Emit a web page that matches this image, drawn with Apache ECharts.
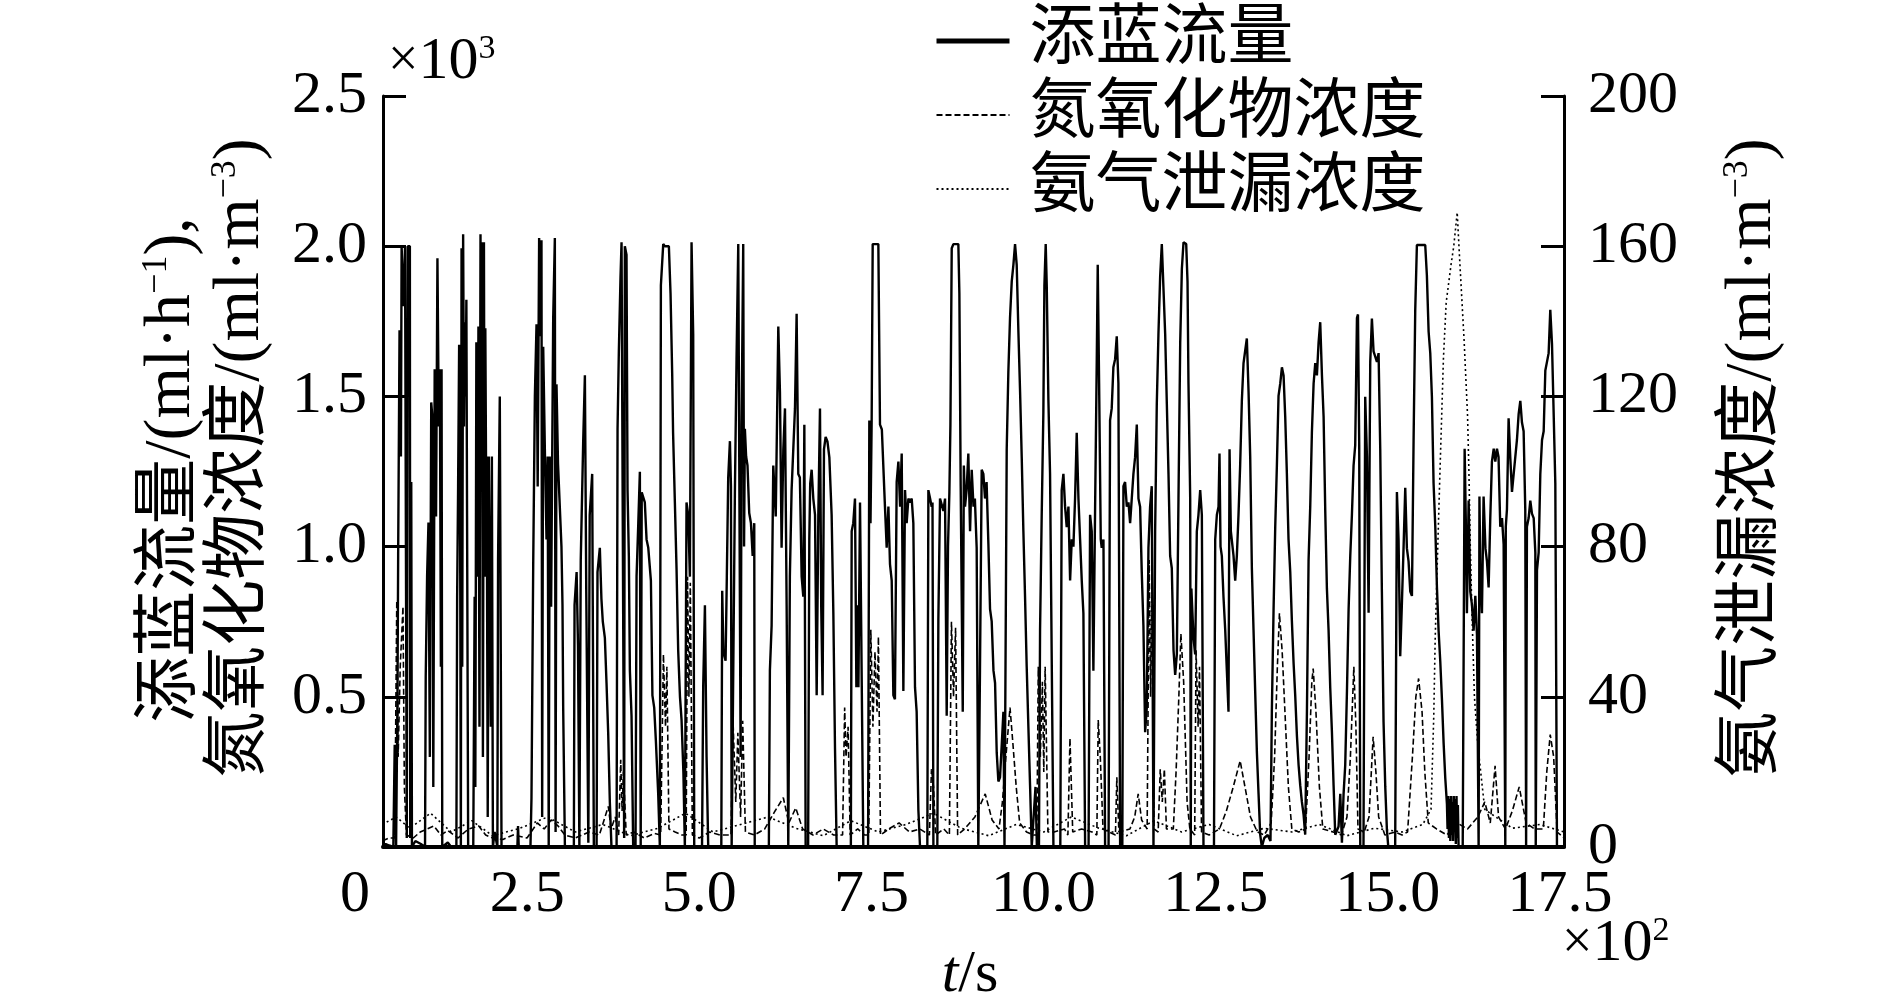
<!DOCTYPE html>
<html>
<head>
<meta charset="utf-8">
<script src="https://cdn.jsdelivr.net/npm/echarts@6/dist/echarts.min.js"></script>
<style>
  html, body { margin: 0; padding: 0; background: #fff; }
  #chart { width: 1889px; height: 1004px; }
</style>
</head>
<body>
<div id="chart"></div>
<script>
// 时间 t/s 与数值
const flowData = [
  [40,0],[45,10],[50,5],[56,0],[58,340],[60,0],[62,500],[63,970],[65,1720],[67,1300],[68,2000],[71,1800],[73,2000],[75,2000],[75.5,30],[77,2000],[80,2000],[80.5,30],[82,1215],[83,0],[88,20],[96,10],[102,0],
  [103,567],[105,900],[107,1080],[109,300],[111,1480],[113,1420],[114,200],[116,1590],[118,1100],[120,1960],[122,1400],[123.5,1590],[125,600],[126,1590],[127,0],
  [135,15],[140,0],[147.5,0],[148.6,833],[150,1200],[151.5,1672],[153,1000],[154,0],[155,1993],[156,600],[157.3,2040],[158.5,1400],[159.7,1747],[161,1500],[162,1822],[163,1100],[164.6,0],
  [172,0],[174,833],[175,200],[176.5,1680],[178,900],[179.5,1733],[181,400],[182.5,2040],[183.5,1200],[184.5,2013],[186,300],[187.5,2013],[188.5,900],[189.5,1727],[190.5,1290],[191.5,1300],[193,100],[194.5,1300],[196,1300],[197.5,400],[199,1300],[200.5,0],
  [203,50],[207,0],[208,955],[210.5,1500],[213,0],[236,0],[237,70],[238,0],[255,0],
  [256.5,164],[259,940],[261.4,1500],[263.8,1740],[265.5,1200],[267.6,2027],[269,1700],[271,2020],[272,100],[273.5,1665],[276,1310],[278.3,1024],[280,1300],[281.5,0],[283,1300],[285,800],[288,1760],[290.4,2027],[291.5,50],[292.8,1540],[295,1276],[297.7,1270],[300,1000],[301.5,805],[302.5,464],[305,0],
  [318,0],[319,805],[322,915],[324,669],[326,0],[328,955],[331.5,1345],[334,1570],[336,846],[339,14],[341,1105],[344.6,1242],[347,0],
  [351,0],[352.3,915],[355.7,996],[358,826],[360,750],[363,696],[365.4,546],[367.8,382],[370.2,150],[372.6,0],
  [380,0],[381.4,1392],[383.3,1652],[385.7,1897],[387.2,2013],[390,2013],[391,30],[392,2000],[394.4,1972],[395.9,1188],[397.8,969],[399.3,587],[401.7,437],[404.1,0],
  [407.5,0],[409,901],[411.5,1078],[413.8,1249],[415,0],[416.5,1181],[418.6,1181],[421,1147],[423.5,1024],[426,996],[429.8,887],[432,505],[434.6,464],[437,355],[440.4,177],[442.8,0],
  [444.3,1870],[447.7,2007],[450,2000],[455.9,2000],[458.3,1843],[460.7,1577],[462,1379],[464.6,1147],[467,928],[469.4,655],[472,500],[474.3,423],[477,246],[479.1,0],
  [481.5,1147],[484,1105],[486.4,900],[488.8,2013],[490,2013],[491.2,1706],[492.7,0],
  [504,0],[505.7,532],[508.2,805],[510.6,300],[513,0],
  [532,0],[533.3,853],[535,650],[538.2,620],[540,900],[542,1228],[544.5,1351],[546,1200],[547,0],[549.3,0],[551.7,1180],[554.1,1624],[556.6,2007],[559,2007],[560,300],[561.4,1406],[563.8,2007],[565,1000],[566.2,1392],[568,1300],[570,1270],[572.5,1112],[575,1078],[577.5,969],[579.8,1078],[580.5,0],
  [601,0],[602.5,587],[605,737],[607.4,1270],[608.4,1270],[611,1100],[614.7,1733],[617.1,1515],[619.5,996],[622,1324],[624.4,1460],[626.8,805],[629.2,0],[631.5,900],[634,1188],[636.5,1188],[638.9,1460],[641.3,1775],[643.7,1242],[646,1230],[648.6,900],[651,833],[652.5,1406],[654.4,0],
  [658,0],[659.7,1024],[661,1210],[663.1,1256],[665.5,1160],[668,1106],[670.4,505],[672.8,1106],[675.2,1460],[677,800],[679,505],[681,1324],[683.4,1365],[686,1350],[688.8,1297],[692.1,1106],[694.6,778],[697,328],[699.4,0],
  [720,0],[721.2,1051],[723.5,1078],[726,1160],[728,532],[729.4,805],[731,532],[733.3,1147],[735.5,1147],[738.1,0],
  [745,0],[746.8,1420],[748.5,1078],[750.2,1420],[751.7,2007],[759.9,2007],[762.3,1406],[765,1390],[767.2,1392],[769.5,1133],[772,996],[774.5,1133],[776.8,942],[779.3,887],[781.7,505],[784,492],[786.5,1215],[789,1283],[791.5,1133],[793.8,1310],[796.2,519],[798.6,1188],[801,1078],[803.5,1160],[806,1147],[808.3,1160],[810.7,1078],[813.1,532],[815.5,450],[818,123],[820.4,0],
  [831,0],[832.5,1188],[835,1160],[837.3,1133],[838.5,1147],[839.8,0],[845.5,0],[847,758],[849.4,1160],[851.8,1160],[854.3,1119],[856.7,1160],[859.1,437],[861,1000],[863,1181],[864.5,1406],[866.4,1993],[868.8,2007],[876,2007],[877.5,1843],[879.4,1201],[882.4,450],[884,1270],[885.7,1133],[888,1188],[890.5,1310],[893,1051],[895.4,1256],[898,1133],[900,1160],[902.6,996],[905,0],[907.4,587],[909.9,1256],[912.3,1242],[914.7,1160],[917,1215],[919.6,1010],[922,792],[924.4,751],[927,587],[929.3,546],[931.7,314],[934.1,218],[936.5,232],[939,341],[941.4,450],[943,0],
  [945,0],[946.2,1324],[948.6,1583],[951,1761],[953.5,1883],[955.9,1938],[958.3,2007],[960.7,1938],[963.1,1720],[965.6,1515],[968,1297],[970.4,1051],[972.8,833],[975.2,601],[977.7,396],[980.1,205],[982.5,0],
  [988,200],[990,0],[993,0],[994.6,723],[997,1106],[999.4,1447],[1000.9,1870],[1002.8,2007],[1004.3,1870],[1006.7,1488],[1009.1,1242],[1011.5,1242],[1014,0],
  [1024,0],[1026,1188],[1028.5,1242],[1030.9,1133],[1033.3,1065],[1035.8,1133],[1038.2,887],[1040.6,1024],[1043,1000],[1045.4,1160],[1047.8,1379],[1050.3,1160],[1052.7,1024],[1055.1,887],[1057.5,778],[1060,0],
  [1065,0],[1067.2,1106],[1069.6,1051],[1072,587],[1074.5,1133],[1076.9,1624],[1078.3,1938],[1080.3,1543],[1082.7,1024],[1084.1,996],[1086.6,1024],[1089,0],
  [1094,0],[1096.2,1420],[1098.6,1460],[1101,1597],[1103.5,1624],[1105.9,1700],[1108.3,1543],[1110.8,0],
  [1114,0],[1115.6,1201],[1118,1215],[1120.5,1133],[1122.9,1147],[1125.3,1078],[1127.7,1160],[1130.1,1242],[1132.5,1297],[1135,1406],[1137.4,1160],[1139.8,1133],[1142.2,915],[1144.6,737],[1147.1,382],[1149.5,464],[1151.9,996],[1154.3,1133],[1156.7,1201],[1159.2,0],
  [1161.6,1051],[1164,1474],[1166.4,1706],[1168.9,1900],[1171.3,2007],[1173.7,2007],[1176.2,1706],[1178.6,1474],[1181,1242],[1183.4,969],[1185.8,928],[1188.3,655],[1190.7,573],[1193.1,641],[1195.5,1160],[1198,1679],[1200.4,1925],[1202.8,2013],[1206.7,2007],[1208.6,1883],[1210,1543],[1212.5,1160],[1213.3,0],[1214.2,860],[1217.3,696],[1219.7,641],[1222.1,1051],[1224.5,1106],[1227,1188],[1229.4,1106],[1231.8,0],
  [1247,0],[1248.8,1024],[1251.2,1106],[1253.6,1133],[1255,1310],[1256.5,1000],[1258.4,969],[1260.8,833],[1263.3,723],[1265.7,587],[1268.1,450],[1269.6,1324],[1271.5,1051],[1273,1051],[1275.4,969],[1277.8,887],[1280.2,969],[1282.6,1106],[1285,1270],[1287.5,1488],[1289.9,1611],[1292.3,1652],[1294.7,1693],[1297.2,1515],[1299.6,1297],[1302,928],[1304.4,723],[1306.8,519],[1309.3,314],[1311.7,177],[1314.1,41],[1316.5,0],
  [1320,30],[1325,40],[1329,20],[1331,450],[1333.5,792],[1335.9,1065],[1338.3,1270],[1340.7,1502],[1343.2,1543],[1345.6,1597],[1348,1570],[1350.4,1433],[1352.8,1242],[1355.2,1024],[1357.7,915],[1360.1,751],[1362.5,614],[1364.9,505],[1367.4,369],[1369.8,273],[1372.2,205],[1374.6,150],[1377,109],[1379.4,41],[1381.9,450],[1384.3,955],[1386.7,1133],[1389.1,1379],[1391.6,1543],[1394,1611],[1396.4,1570],[1398.8,1679],[1401.2,1747],[1403.7,1570],[1406.1,1433],[1408.5,1119],[1410.9,860],[1413.3,723],[1415.7,532],[1418.2,382],[1420.6,205],[1423,41],[1425.4,41],[1427.8,68],[1430.3,177],[1432.7,14],[1435.1,177],[1437.5,273],[1440,519],[1442.4,792],[1444.8,969],[1447.2,1106],[1449.6,1270],[1452,1338],[1454.5,1761],[1456,1773],[1457.8,1338],[1459.3,0],
  [1464,0],[1466.5,1499],[1469,1300],[1471.4,780],[1473.8,1615],[1476.2,1759],[1478.6,1650],[1481,1644],[1483.5,1615],[1485.9,1644],[1488.3,1326],[1490.7,850],[1493.1,417],[1495.6,200],[1498,56],[1500,0],
  [1510,0],[1512.5,1182],[1514.9,1023],[1517.3,635],[1519.7,807],[1522.2,1000],[1524.6,1196],[1527,994],[1529.4,951],[1531.9,850],[1534.3,836],[1536.7,1355],[1539.1,1788],[1541.5,2004],[1553.6,2004],[1556,1903],[1558.5,1716],[1560.9,1644],[1563.3,1499],[1565.7,1211],[1568.2,1066],[1570.6,864],[1573,720],[1575.4,619],[1577.9,489],[1580.3,345],[1582.7,229],[1585.1,143],[1586,60],[1587,170],[1588,30],[1589,160],[1590,20],[1591,170],[1592,40],[1593,150],[1594,20],[1595,170],[1596,50],[1597,160],[1598,10],[1599,170],[1600,30],[1601,140],[1602,0],
  [1608,0],[1610.8,1326],[1612.4,1100],[1614.1,778],[1616.6,1153],[1619,850],[1621.4,807],[1623.8,720],[1626.3,836],[1628.7,707],[1631.1,0],[1632.3,1167],[1633.5,922],[1635.9,778],[1638.3,1167],[1641,994],[1643.2,951],[1645.6,864],[1648,1095],[1650.4,1283],[1653,1326],[1655.3,1283],[1657.7,1326],[1660,1298],[1662.5,1066],[1665,1095],[1667.4,1008],[1669.8,0],[1670.5,1066],[1672.2,1124],[1674.6,1427],[1677,1298],[1679.5,1182],[1681.9,1240],[1684.3,1298],[1686.7,1355],[1689.2,1442],[1691.6,1485],[1694,1413],[1696.4,1384],[1698.8,1124],[1700,0],[1701.2,1066],[1703.7,1095],[1706.1,1153],[1708.5,1110],[1711,1095],[1713.4,980],[1714,0],[1715.8,922],[1718.2,980],[1720.6,1240],[1723.1,1355],[1725.5,1384],[1727.9,1586],[1730.3,1615],[1732.7,1644],[1735.1,1788],[1737.6,1673],[1740,1442],[1742.4,1211],[1744.8,0],[1755,0]
];

const noxData = [
  [40,20],[50,30],[58,30],[61,820],[63,300],[66,600],[70,800],[72,200],[75,40],[85,30],[95,50],[105,60],[115,70],[125,40],[135,55],[150,30],[165,60],[180,70],[190,40],[200,30],[215,25],[230,40],[250,30],[265,80],[275,60],[285,90],[295,70],[305,40],[320,30],[340,50],[355,40],[368,135],[372,60],[378,100],[383,40],[386,290],[388,120],[390,250],[394,40],[405,50],[420,30],[435,45],[444,40],[448,641],[451,400],[453,600],[456,60],[465,50],[475,40],[481,40],[483,900],[485,500],[487,880],[490,40],[500,30],[515,50],[530,40],[546,40],[549,420],[553,150],[556,380],[560,100],[563,420],[567,50],[580,40],[595,60],[610,120],[622,164],[630,80],[640,130],[650,60],[665,40],[680,60],[695,40],[708,40],[711,464],[713,300],[716,400],[719,40],[730,60],[740,40],[746,40],[749,723],[752,400],[755,650],[758,450],[760,700],[763,40],[775,60],[790,80],[805,50],[820,60],[834,40],[837,259],[840,200],[843,40],[855,60],[863,40],[866,750],[869,500],[872,730],[875,40],[885,60],[900,100],[915,177],[925,90],[935,60],[940,150],[945,300],[951,464],[955,350],[960,200],[965,80],[975,50],[985,40],[990,40],[992,600],[995,300],[998,550],[1000,250],[1002,600],[1006,50],[1015,50],[1030,60],[1035,40],[1038,362],[1042,50],[1055,60],[1070,50],[1077,40],[1079,423],[1082,300],[1086,60],[1095,50],[1104,40],[1106,232],[1109,50],[1125,60],[1132,100],[1137,177],[1142,90],[1150,60],[1153,955],[1155,500],[1157,900],[1160,60],[1166,50],[1169,259],[1172,150],[1175,259],[1178,60],[1188,60],[1192,250],[1196,500],[1199,710],[1203,550],[1208,150],[1212,60],[1219,40],[1221,655],[1224,400],[1226,600],[1229,50],[1240,40],[1255,60],[1265,120],[1275,200],[1285,287],[1292,200],[1300,100],[1310,50],[1320,40],[1330,80],[1335,300],[1339,600],[1342,778],[1346,650],[1350,450],[1355,200],[1360,60],[1370,50],[1380,60],[1385,300],[1389,550],[1391,594],[1395,450],[1400,200],[1405,60],[1420,50],[1432,40],[1440,100],[1445,300],[1450,600],[1453,400],[1456,60],[1465,50],[1472,100],[1478,367],[1482,250],[1486,100],[1495,40],[1510,50],[1520,40],[1528,50],[1535,300],[1540,500],[1544,561],[1549,450],[1553,250],[1558,80],[1570,60],[1585,40],[1600,80],[1615,60],[1630,100],[1640,150],[1648,80],[1655,270],[1660,100],[1670,60],[1680,120],[1690,200],[1700,80],[1712,60],[1725,60],[1730,250],[1735,374],[1740,300],[1745,50],[1755,30]
];

const nh3Data = [
  [40,6],[60,8],[80,5],[110,9],[140,4],[170,7],[200,3],[240,5],[280,8],[320,4],[360,6],[400,3],[440,5],[480,9],[520,4],[560,6],[600,8],[640,5],[680,3],[720,7],[760,4],[800,6],[840,9],[880,5],[920,3],[960,6],[1000,4],[1040,8],[1080,5],[1120,3],[1160,7],[1200,4],[1240,6],[1280,3],[1320,5],[1360,4],[1400,6],[1440,3],[1480,5],[1520,4],[1550,6],[1562,10],[1566,35],[1568,55],[1571,75],[1575,100],[1580,130],[1584,145],[1591,155],[1595,160],[1600,169],[1604,155],[1610,135],[1615,115],[1617,100],[1619,80],[1621,65],[1625,40],[1630,27],[1640,10],[1680,5],[1720,6],[1755,4]
];

const xTickLabels = ["0", "2.5", "5.0", "7.5", "10.0", "12.5", "15.0", "17.5"];
const leftTickLabels = ["", "0.5", "1.0", "1.5", "2.0", "2.5"];
const rightTickLabels = ["0", "40", "80", "120", "160", "200"];
const seriesNames = ["添蓝流量", "氮氧化物浓度", "氨气泄漏浓度"];

const serif = '"Liberation Serif", "Noto Sans CJK SC", serif';
const cjk = '"Liberation Serif", "Noto Sans CJK SC", sans-serif';

const chart = echarts.init(document.getElementById("chart"));

const option = {
  backgroundColor: "#fff",
  animation: false,
  legend: {
    orient: "vertical",
    left: 929,
    top: 3,
    itemWidth: 73,
    itemHeight: 14,
    itemGap: 8,
    selectedMode: false,
    itemStyle: { opacity: 0 },
    data: [
      { name: seriesNames[0], lineStyle: { width: 5 }, itemStyle: { opacity: 0 } },
      { name: seriesNames[1], lineStyle: { width: 2 }, itemStyle: { opacity: 0 } },
      { name: seriesNames[2], lineStyle: { width: 2 }, itemStyle: { opacity: 0 } }
    ],
    textStyle: {
      fontSize: 66,
      fontFamily: cjk,
      color: "#000",
      padding: [0, 0, 0, 15]
    }
  },
  grid: [
    { left: 383, right: 325, top: 96, bottom: 157 },
    // 刻度标签所用网格
    { left: 355, right: 329, top: 96, bottom: 157 }
  ],
  xAxis: [
    {
      type: "value",
      gridIndex: 0,
      min: 41,
      max: 1755,
      axisLine: { lineStyle: { color: "#000", width: 4 } },
      axisTick: { show: false },
      axisLabel: { show: false },
      splitLine: { show: false }
    },
    {
      type: "value",
      gridIndex: 1,
      min: 0,
      max: 1750,
      interval: 250,
      axisLine: { show: false },
      axisTick: { show: false },
      splitLine: { show: false },
      axisLabel: {
        margin: 18,
        fontSize: 60,
        fontFamily: serif,
        color: "#000",
        formatter: (v, i) => xTickLabels[i]
      }
    }
  ],
  yAxis: [
    {
      type: "value",
      gridIndex: 0,
      position: "left",
      min: 0,
      max: 2500,
      interval: 500,
      axisLine: { show: true, lineStyle: { color: "#000", width: 3 } },
      axisTick: { show: true, inside: true, length: 23, lineStyle: { color: "#000", width: 3 } },
      axisLabel: {
        margin: 16,
        fontSize: 60,
        fontFamily: serif,
        color: "#000",
        formatter: (v, i) => leftTickLabels[i]
      },
      splitLine: { show: false }
    },
    {
      type: "value",
      gridIndex: 0,
      position: "right",
      min: 0,
      max: 200,
      interval: 40,
      axisLine: { show: true, lineStyle: { color: "#000", width: 3 } },
      axisTick: { show: true, inside: true, length: 23, lineStyle: { color: "#000", width: 3 } },
      axisLabel: {
        margin: 24,
        fontSize: 60,
        fontFamily: serif,
        color: "#000",
        formatter: (v, i) => rightTickLabels[i]
      },
      splitLine: { show: false }
    },
    {
      type: "value",
      gridIndex: 1,
      show: false
    }
  ],
  series: [
    {
      name: seriesNames[0],
      type: "line",
      xAxisIndex: 0,
      yAxisIndex: 0,
      data: flowData,
      symbol: "none",
      lineStyle: { color: "#000", width: 2.4 },
      itemStyle: { color: "#000" }
    },
    {
      name: seriesNames[1],
      type: "line",
      xAxisIndex: 0,
      yAxisIndex: 0,
      data: noxData,
      symbol: "none",
      lineStyle: { color: "#000", width: 1.6, type: [6, 3] },
      itemStyle: { color: "#000" }
    },
    {
      name: seriesNames[2],
      type: "line",
      xAxisIndex: 0,
      yAxisIndex: 1,
      data: nh3Data,
      symbol: "none",
      lineStyle: { color: "#000", width: 1.6, type: [2, 3] },
      itemStyle: { color: "#000" }
    }
  ],
  graphic: [
    // ×10^3
    {
      type: "text",
      x: 388,
      y: 32,
      style: {
        text: "{x|×}{n|10}{s|3}",
        fill: "#000",
        rich: {
          x: { fontSize: 54, fontFamily: serif, fill: "#000" },
          n: { fontSize: 60, fontFamily: serif, fill: "#000" },
          s: { fontSize: 34, fontFamily: serif, fill: "#000", verticalAlign: "top" }
        }
      }
    },
    // ×10^2
    {
      type: "text",
      x: 1562,
      y: 914,
      style: {
        text: "{x|×}{n|10}{s|2}",
        fill: "#000",
        rich: {
          x: { fontSize: 54, fontFamily: serif, fill: "#000" },
          n: { fontSize: 60, fontFamily: serif, fill: "#000" },
          s: { fontSize: 34, fontFamily: serif, fill: "#000", verticalAlign: "top" }
        }
      }
    },
    // t/s
    {
      type: "text",
      x: 970,
      y: 975,
      style: {
        text: "{i|t}{n|/s}",
        align: "center",
        verticalAlign: "middle",
        fill: "#000",
        rich: {
          i: { fontSize: 60, fontFamily: serif, fontStyle: "italic", fill: "#000" },
          n: { fontSize: 60, fontFamily: serif, fill: "#000" }
        }
      }
    },
    // 左轴标题
    {
      type: "text",
      x: 172,
      y: 470,
      rotation: Math.PI / 2,
      style: {
        text: "{t|添蓝流量/(ml·h}{s|−1}{t|),}",
        align: "center",
        verticalAlign: "middle",
        fill: "#000",
        rich: {
          t: { fontSize: 66, fontFamily: cjk, fill: "#000" },
          s: { fontSize: 36, fontFamily: serif, fill: "#000", verticalAlign: "top" }
        }
      }
    },
    {
      type: "text",
      x: 241,
      y: 458,
      rotation: Math.PI / 2,
      style: {
        text: "{t|氮氧化物浓度/(ml·m}{s|−3}{t|)}",
        align: "center",
        verticalAlign: "middle",
        fill: "#000",
        rich: {
          t: { fontSize: 66, fontFamily: cjk, fill: "#000" },
          s: { fontSize: 36, fontFamily: serif, fill: "#000", verticalAlign: "top" }
        }
      }
    },
    // 右轴标题
    {
      type: "text",
      x: 1753,
      y: 458,
      rotation: Math.PI / 2,
      style: {
        text: "{t|氨气泄漏浓度/(ml·m}{s|−3}{t|)}",
        align: "center",
        verticalAlign: "middle",
        fill: "#000",
        rich: {
          t: { fontSize: 66, fontFamily: cjk, fill: "#000" },
          s: { fontSize: 36, fontFamily: serif, fill: "#000", verticalAlign: "top" }
        }
      }
    }
  ]
};

chart.setOption(option);
</script>
</body>
</html>
